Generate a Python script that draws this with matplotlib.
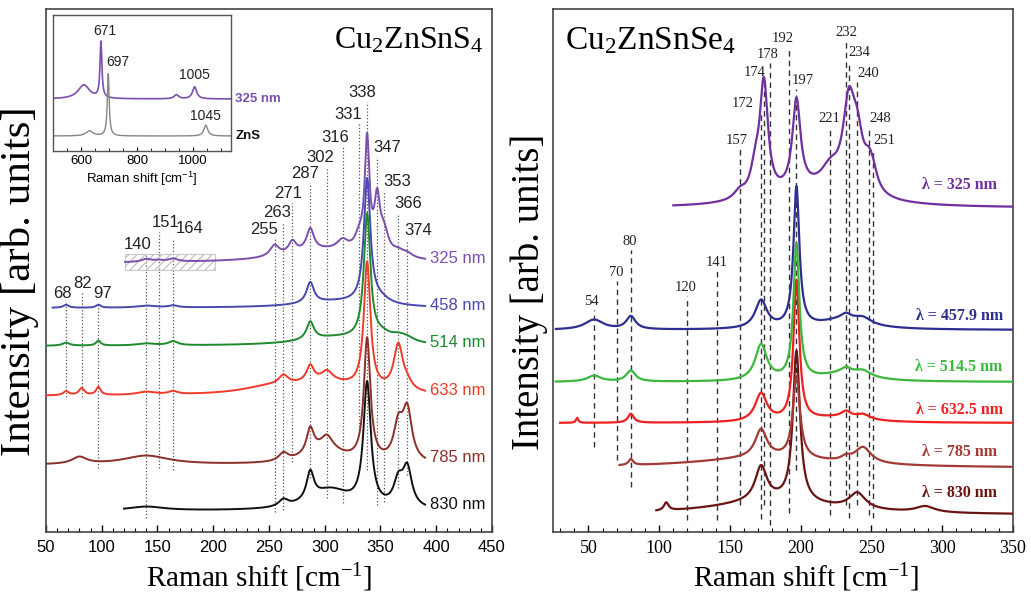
import matplotlib
matplotlib.use('Agg')
import matplotlib.pyplot as plt
import numpy as np
from matplotlib.patches import Rectangle

plt.rcParams['mathtext.default'] = 'regular'
SANS = 'Liberation Sans'
SERIF = 'Liberation Serif'

# ---------------- Cu2ZnSnS4 spectra ----------------
# each band: (position [cm-1], height, half width); base = vertical offset of trace
kes_names = ['325 nm', '458 nm', '514 nm', '633 nm', '785 nm', '830 nm']
kes_colors = ['#7b4fb0', '#4848ae', '#1e8a2e', '#f03a2a', '#8c2f28', '#111111']
kes_range = [(121, 390), (56, 390), (50, 390), (50, 390), (50, 390), (120, 390)]
kes_base = [269, 224, 186, 136, 67, 21]
kes_bands = [
    [(140, 3, 5), (151, 1.5, 5), (164, 3, 5), (300, 12, 45), (255, 11, 5), (271, 12, 4),
     (287, 22, 4), (316, 10, 6), (331, 14, 5), (338, 110, 2.5), (347, 50, 3), (353, 22, 5),
     (366, 5, 6), (374, 4, 6)],
    [(68, 3, 3), (97, 3, 2.5), (140, 2, 10), (164, 2, 5), (310, 6, 40), (287, 21, 4),
     (338, 124, 3.5), (350, 5, 10)],
    [(68, 3, 4), (97, 5, 2.5), (140, 2, 10), (164, 4, 5), (310, 8, 40), (287, 18, 4),
     (338, 125, 3.5), (352, 6, 10), (366, 5, 8), (374, 4, 8)],
    [(68, 4, 3), (82, 7, 3), (97, 8, 2.5), (140, 3, 10), (164, 3, 5), (250, 6, 30),
     (300, 12, 40), (263, 9, 5), (287, 16, 4), (302, 10, 6), (338, 126, 3.5), (366, 46, 5),
     (374, 6, 5)],
    [(80, 7, 8), (140, 9, 25), (263, 8, 5), (300, 15, 20), (287, 25, 4), (302, 12, 6),
     (338, 122, 3.5), (366, 34, 5), (374, 50, 5)],
    [(140, 4, 20), (263, 7, 5), (305, 20, 22), (287, 28, 4), (338, 122, 4), (366, 24, 5),
     (374, 38, 5)],
]
kes_marks = [68, 82, 97, 140, 151, 164, 255, 263, 271, 287, 302, 316, 331, 338, 347, 353, 366, 374]

# inset: 325 nm vs ZnS
ins_names = ['325 nm', 'ZnS']
ins_colors = ['#7b4fb0', '#8a8482']
ins_base = [52, 15]
ins_bands = [
    [(610, 14, 25), (671, 56, 4), (940, 4, 10), (1005, 12, 9)],
    [(630, 5, 15), (697, 62, 4), (1045, 11, 8)],
]
ins_marks = [671, 697, 1005, 1045]

# ---------------- Cu2ZnSnSe4 spectra ----------------
kese_names = ['λ = 325 nm', 'λ = 457.9 nm', 'λ = 514.5 nm', 'λ = 632.5 nm', 'λ = 785 nm', 'λ = 830 nm']
kese_colors = ['#7030a0', '#2e2e90', '#3cb83c', '#f02020', '#a33a36', '#6a1414']
kese_range = [(110, 350), (27, 350), (27, 350), (30, 350), (72, 350), (98, 350)]
kese_base = [324, 202, 150, 109, 64, 17]
kese_bands = [
    [(157, 8, 5), (168, 25, 4), (174, 112, 3.5), (197, 90, 3.5), (210, 15, 35), (221, 20, 8),
     (234, 82, 5), (240, 48, 5), (248, 20, 4), (251, 15, 4)],
    [(54, 10, 8), (80, 13, 4), (172, 28, 5), (197, 140, 2.5), (230, 10, 20), (232, 5, 4),
     (244, 6, 7)],
    [(54, 6, 6), (80, 11, 4), (172, 36, 5), (197, 135, 2.5), (230, 8, 20), (232, 5, 4),
     (244, 6, 7)],
    [(42, 5, 1), (80, 9, 2.5), (172, 28, 5), (197, 140, 2.5), (225, 5, 25), (232, 6, 4),
     (244, 5, 6)],
    [(80, 6, 2), (175, 10, 60), (172, 28, 5), (197, 82, 3), (244, 16, 7), (232, 4, 4)],
    [(105, 8, 2), (180, 14, 50), (172, 34, 5), (197, 150, 3), (240, 16, 7), (288, 6, 8)],
]
kese_marks = [54, 70, 80, 120, 141, 157, 172, 174, 178, 192, 197, 221, 232, 234, 240, 248, 251]


def trace(x0, x1, base, bands, n=1200):
    x = np.linspace(x0, x1, n)
    y = np.full_like(x, float(base))
    for c, h, w in bands:
        y += h / (1 + ((x - c) / w) ** 2)
    return x, y


# label placement (x in cm-1, y in plot units), line extents
kes_lab_x = [65, 83, 101, 132, 157, 179, 246, 257, 267, 282, 296, 309, 321, 334, 356, 365, 375, 384]
kes_lab_y = [239, 249, 239, 288, 310, 304, 303, 320, 339, 359, 375, 395, 418, 440, 385, 351, 329, 302]
kes_line_lo = [135, 135, 64, 14, 64, 62, 20, 22, 70, 54, 34, 29, 102, 62, 27, 30, 44, 57]

kese_lab_x = [52, 70, 79, 119, 141, 155, 159, 167.5, 177, 187, 201.5, 220.5, 232.5, 241.7, 247.4, 256, 259.4]
kese_lab_y = [231, 260, 291, 245, 270, 392, 429, 460, 478, 494, 452, 414, 500, 480, 459, 414, 392]
kese_line_lo = [85, 72, 45, 12, 12, 27, 13, 27, 7, 19, 62, 17, 27, 14, 27, 17, 14]
kese_lab_ypos = [347, 216, 165, 122, 80, 39]

fig = plt.figure(figsize=(10.31, 5.95), dpi=100)
ax1 = fig.add_axes([0.0446, 0.1059, 0.4326, 0.8789])
ax2 = fig.add_axes([0.5364, 0.1059, 0.4461, 0.8789])

# ---- left panel
for i in range(len(kes_marks)):
    ax1.plot([kes_marks[i], kes_marks[i]], [kes_line_lo[i], kes_lab_y[i] - 10], ls=':',
             color='#555555', lw=0.9, zorder=1)
    ax1.text(kes_lab_x[i], kes_lab_y[i], str(kes_marks[i]), ha='center', va='center',
             fontsize=12, family=SANS, color='#222222')

ax1.add_patch(Rectangle((121, 262), 81, 16, facecolor='none', edgecolor='#c8c8c8',
                        hatch='////', lw=0.8, zorder=1))

for i in range(len(kes_names) - 1, -1, -1):
    x, y = trace(kes_range[i][0], kes_range[i][1], kes_base[i], kes_bands[i])
    ax1.plot(x, y, color=kes_colors[i], lw=1.4, zorder=3)
    ax1.text(394, y[-1], kes_names[i], ha='left', va='center', fontsize=12, family=SANS,
             color=kes_colors[i])

ax1.set_xlim(50, 450)
ax1.set_ylim(0, 523)
ax1.set_xticks(np.arange(50, 451, 50))
ax1.set_xticks(np.arange(50, 451, 10), minor=True)
ax1.set_yticks([])
ax1.tick_params(axis='x', direction='in', length=5, width=1, labelsize=12, top=False, pad=6)
ax1.tick_params(axis='x', which='minor', direction='in', length=3, width=0.8)
for lab in ax1.get_xticklabels():
    lab.set_family(SANS)
ax1.set_xlabel('Raman shift [cm$^{-1}$]', family=SERIF, fontsize=21)
ax1.xaxis.set_label_coords(0.478, -0.056)
ax1.set_ylabel('Intensity [arb. units]', family=SERIF, fontsize=31)
ax1.yaxis.set_label_coords(-0.016, 0.48)
ax1.text(0.982, 0.94, 'Cu$_2$ZnSnS$_4$', transform=ax1.transAxes, ha='right', va='center',
         fontsize=23, family=SERIF)

# ---- inset
axi = fig.add_axes([0.0514, 0.7462, 0.1727, 0.2286])
for i in range(len(ins_names)):
    x, y = trace(500, 1135, ins_base[i], ins_bands[i])
    axi.plot(x, y, color=ins_colors[i], lw=1.2 if i == 0 else 1.0)
    axi.text(1150, y[-1], ins_names[i], ha='left', va='center', fontsize=9.5, family=SANS,
             fontweight='bold', color='#7b4fb0' if i == 0 else '#111111', clip_on=False)
ins_lab_pos = [(685, 120), (732, 89), (1005, 76), (1045, 35)]
for m, (lx, ly) in zip(ins_marks, ins_lab_pos):
    axi.text(lx, ly, str(m), ha='center', va='center', fontsize=10, family=SANS, color='#222222')
axi.set_xlim(500, 1135)
axi.set_ylim(0, 136)
axi.set_xticks([600, 800, 1000])
axi.set_xticks(np.arange(550, 1135, 50), minor=True)
axi.set_yticks([])
axi.tick_params(axis='x', direction='in', length=3, labelsize=9.5, pad=3)
axi.tick_params(axis='x', which='minor', direction='in', length=2)
for lab in axi.get_xticklabels():
    lab.set_family(SANS)
axi.set_xlabel('Raman shift [cm$^{-1}$]', family=SANS, fontsize=9.5, labelpad=2)
for sp in axi.spines.values():
    sp.set_color('#555555')
    sp.set_linewidth(1.0)

# ---- right panel
for i in range(len(kese_marks)):
    ax2.plot([kese_marks[i], kese_marks[i]], [kese_line_lo[i], kese_lab_y[i] - 9], ls=(0, (4, 3)),
             color='#333333', lw=1.0, zorder=1)
    ax2.text(kese_lab_x[i], kese_lab_y[i], str(kese_marks[i]), ha='center', va='center',
             fontsize=10.5, family=SERIF, color='#222222')

for i in range(len(kese_names) - 1, -1, -1):
    x, y = trace(kese_range[i][0], kese_range[i][1], kese_base[i], kese_bands[i])
    ax2.plot(x, y, color=kese_colors[i], lw=1.6, zorder=3)
    ax2.text(312, kese_lab_ypos[i], kese_names[i], ha='center', va='center', fontsize=11.5,
             family=SERIF, fontweight='bold', color=kese_colors[i])

ax2.set_xlim(25, 350)
ax2.set_ylim(0, 523)
ax2.set_xticks(np.arange(50, 351, 50))
ax2.set_xticks(np.arange(30, 351, 10), minor=True)
ax2.set_yticks([])
ax2.tick_params(axis='x', direction='in', length=5, width=1, labelsize=13, pad=6)
ax2.tick_params(axis='x', which='minor', direction='in', length=3, width=0.8)
for lab in ax2.get_xticklabels():
    lab.set_family(SERIF)
ax2.set_xlabel('Raman shift [cm$^{-1}$]', family=SERIF, fontsize=21)
ax2.xaxis.set_label_coords(0.55, -0.056)
ax2.set_ylabel('Intensity [arb. units]', family=SERIF, fontsize=28)
ax2.yaxis.set_label_coords(-0.012, 0.46)
ax2.text(0.026, 0.94, 'Cu$_2$ZnSnSe$_4$', transform=ax2.transAxes, ha='left', va='center',
         fontsize=24, family=SERIF)

for ax in (ax1, ax2):
    for sp in ax.spines.values():
        sp.set_color('#444444')
        sp.set_linewidth(1.2)

fig.savefig('out.png', dpi=100)
